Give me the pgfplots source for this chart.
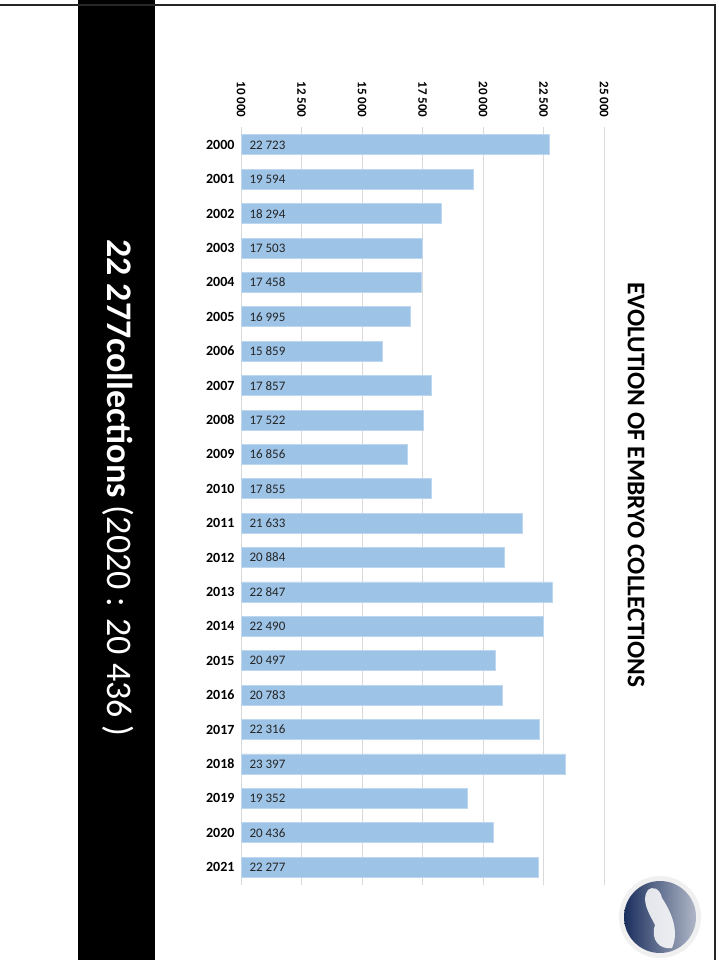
\documentclass[border=0pt]{standalone}
\usepackage{pgfplots}
\pgfplotsset{compat=1.18}
\usepackage{pgfplotstable}
\usepackage{fontspec}
\setmainfont{Carlito}

\definecolor{barblue}{HTML}{9DC3E6}
\definecolor{baredge}{HTML}{BDD7EE}
\definecolor{gridgray}{HTML}{D9D9D9}
\definecolor{labelgray}{HTML}{262626}
\definecolor{navy}{HTML}{1B2F5E}

% embryo collections per year
\pgfplotstableread{
year val
2000 22723
2001 19594
2002 18294
2003 17503
2004 17458
2005 16995
2006 15859
2007 17857
2008 17522
2009 16856
2010 17855
2011 21633
2012 20884
2013 22847
2014 22490
2015 20497
2016 20783
2017 22316
2018 23397
2019 19352
2020 20436
2021 22277
}\collections

\begin{document}
\begin{tikzpicture}[x=1bp,y=1bp]
\useasboundingbox (0,0) rectangle (719,960);
\fill[white] (0,0) rectangle (719,960);
\fill[black] (78,0) rectangle (155,960);
\draw[line width=2bp, black!85] (0,955) -- (715,955) -- (715,0);

\begin{axis}[
    at={(241bp,833bp)}, anchor=north west,
    scale only axis,
    width=363bp, height=758bp,
    xmin=10000, xmax=25000,
    ymin=1999.48, ymax=2021.52,
    y dir=reverse,
    scaled ticks=false,
    xtick={10000,12500,15000,17500,20000,22500,25000},
    ytick={2000,2001,...,2021},
    xmajorgrids,
    grid style={gridgray, line width=1bp},
    axis line style={draw=none},
    tick style={draw=none},
    xticklabel pos=upper,
    /pgf/number format/assume math mode=true,
    xticklabel style={rotate=-90, anchor=east, xshift=-6bp,
      font=\bfseries\fontsize{13bp}{15bp}\selectfont,
      /pgf/number format/1000 sep={\ }},
    yticklabel style={xshift=-3bp, font=\bfseries\fontsize{14bp}{16bp}\selectfont,
      /pgf/number format/1000 sep={}},
  ]
  \addplot[xbar, bar width=20bp, fill=barblue, draw=baredge, line width=0.75bp]
    table[x=val, y=year] {\collections};
  \addplot[only marks, mark=*, mark size=0pt, mark options={draw=none, fill=none},
    point meta=explicit,
    nodes near coords={\pgfmathprintnumber[1000 sep={\ }]{\pgfplotspointmeta}},
    nodes near coords style={anchor=west, xshift=5bp, text=labelgray,
      font=\fontsize{13bp}{15bp}\selectfont}]
    table[x expr=10000, y=year, meta=val] {\collections};
\end{axis}

\node[rotate=-90, font=\bfseries\fontsize{25.4bp}{30bp}\selectfont] at (636,475)
  {EVOLUTION OF EMBRYO COLLECTIONS};
\node[rotate=-90, text=white, font=\fontsize{36bp}{42bp}\selectfont] at (118,472)
  {\textbf{22 277collections} (2020 : 20 436 )};

% logo
\fill[gray!12] (660,43) circle (41);
\shade[left color=navy, right color=navy!35!white] (660,43) circle (36);
\fill[white, opacity=0.85] (648,70) .. controls (640,60) and (650,45) .. (655,35)
  .. controls (650,20) and (660,10) .. (672,12) .. controls (680,30) and (670,50) .. (662,62)
  .. controls (660,72) and (652,74) .. (648,70);
\end{tikzpicture}
\end{document}
